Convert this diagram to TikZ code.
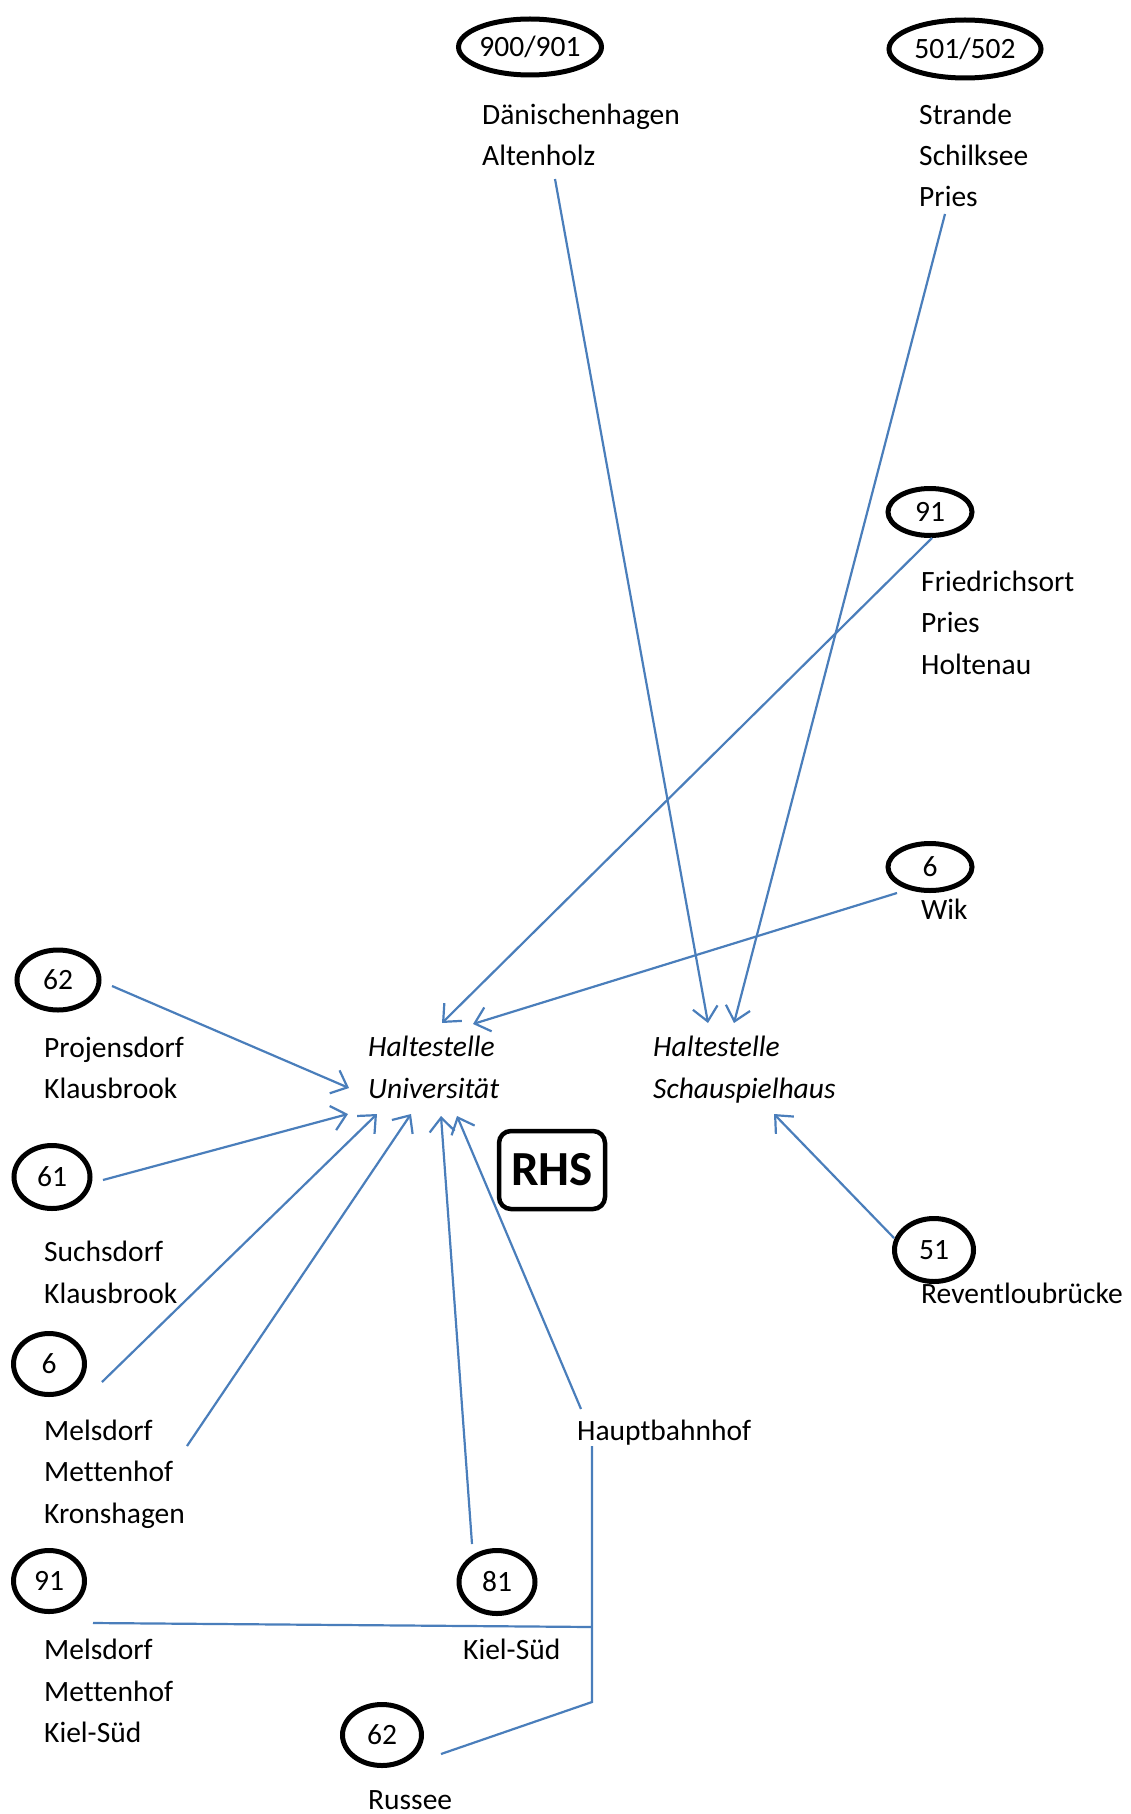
\documentclass[tikz,border=0pt]{standalone}
\usepackage{fontspec}
\setmainfont[Ligatures=NoCommon]{Carlito}
\usetikzlibrary{shapes.geometric,arrows.meta}
\definecolor{lineblue}{RGB}{74,126,187}
\begin{document}
\begin{tikzpicture}[x=1pt,y=-1pt,
  font=\fontsize{29.5}{41.5}\selectfont,
  route/.style={ellipse, draw, line width=5pt, inner sep=0pt},
  lbl/.style={anchor=base west, inner sep=0pt},
  stop/.style={anchor=base west, inner sep=0pt, font=\fontsize{29.5}{41.5}\selectfont\itshape},
  conn/.style={draw=lineblue, line width=2.2pt},
  arr/.style={conn, -{Straight Barb[length=14pt,width=25pt]}}
]
\useasboundingbox (0,0) rectangle (1131,1814);

% route ellipses
\node[route, minimum width=120pt, minimum height=56pt] (r900) at (530,47) {900/901};
\node[route, minimum width=152pt, minimum height=58pt] (r501) at (965,49) {501/502};
\node[route, minimum width=84pt, minimum height=47pt] (r91a) at (930,512) {91};
\node[route, minimum width=84pt, minimum height=47pt] (r6a) at (930,867) {6\hspace{6pt}};
\node[route, minimum width=82pt, minimum height=60pt] (r62a) at (58,980) {62};
\node[route, minimum width=76pt, minimum height=63pt] (r61) at (52,1177) {61};
\node[route, minimum width=71pt, minimum height=61pt] (r6b) at (49,1364) {6};
\node[route, minimum width=71pt, minimum height=61pt] (r91b) at (49,1581) {91};
\node[route, minimum width=76pt, minimum height=63pt] (r81) at (497,1582) {81};
\node[route, minimum width=79pt, minimum height=61pt] (r62b) at (382,1735) {62};
\node[route, minimum width=79pt, minimum height=63pt] (r51) at (934,1250) {51};

% place labels
\node[lbl] (t1a) at (482,125) {Dänischenhagen};
\node[lbl] (t1b) at (482,166) {Altenholz};
\node[lbl] (t2a) at (919,125) {Strande};
\node[lbl] (t2b) at (919,166) {Schilksee};
\node[lbl] (t2c) at (919,207) {Pries};
\node[lbl] (t3a) at (921,591) {Friedrichsort};
\node[lbl] (t3b) at (921,632) {Pries};
\node[lbl] (t3c) at (921,674) {Holtenau};
\node[lbl] (t4a) at (921,919) {Wik};
\node[lbl] (t5a) at (44,1057) {Projensdorf};
\node[lbl] (t5b) at (44,1098) {Klausbrook};
\node[lbl] (t6a) at (44,1261) {Suchsdorf};
\node[lbl] (t6b) at (44,1303) {Klausbrook};
\node[lbl] (t7a) at (44,1440) {Melsdorf};
\node[lbl] (t7b) at (44,1481) {Mettenhof};
\node[lbl] (t7c) at (44,1523) {Kronshagen};
\node[lbl] (t8a) at (44,1659) {Melsdorf};
\node[lbl] (t8b) at (44,1701) {Mettenhof};
\node[lbl] (t8c) at (44,1742) {Kiel-Süd};
\node[lbl] (t9a) at (463,1659) {Kiel-Süd};
\node[lbl] (t10a) at (368,1809) {Russee};
\node[lbl] (t11a) at (921,1303) {Reventloubrücke};
\node[lbl] (hbf) at (577,1440) {Hauptbahnhof};

% stops
\node[stop] (uniA) at (368,1056) {Haltestelle};
\node[stop] (uniB) at (368,1098) {Universität};
\node[stop] (schA) at (653,1056) {Haltestelle};
\node[stop] (schB) at (653,1098) {Schauspielhaus};

% RHS box
\node[draw, line width=4.5pt, rounded corners=12pt, minimum width=106pt, minimum height=78pt,
      inner sep=0pt, font=\fontsize{49}{55}\selectfont\bfseries] (rhs) at (552,1170) {RHS};

% connector end points
\coordinate (a0) at (555,179);  \coordinate (a1) at (708,1023);
\coordinate (b0) at (945,214);  \coordinate (b1) at (734,1023);
\coordinate (c0) at (932,538);  \coordinate (c1) at (442,1023);
\coordinate (d0) at (897,893);  \coordinate (d1) at (473,1024);
\coordinate (e0) at (112,986);  \coordinate (e1) at (349,1088);
\coordinate (f0) at (103,1180); \coordinate (f1) at (348,1114);
\coordinate (g0) at (102,1382); \coordinate (g1) at (377,1114);
\coordinate (h0) at (187,1446); \coordinate (h1) at (411,1114);
\coordinate (i0) at (472,1544); \coordinate (i1) at (441,1116);
\coordinate (j0) at (581,1409); \coordinate (j1) at (457,1116);
\coordinate (k0) at (894,1238); \coordinate (k1) at (774,1114);
\coordinate (hbfdown) at (592,1446);
\coordinate (junc) at (592,1627);
\coordinate (corner) at (592,1702);
\coordinate (m0) at (93,1623);
\coordinate (n0) at (441,1754);

% arrows
\draw[arr] (a0) -- (a1);
\draw[arr] (b0) -- (b1);
\draw[arr] (c0) -- (c1);
\draw[arr] (d0) -- (d1);
\draw[arr] (e0) -- (e1);
\draw[arr] (f0) -- (f1);
\draw[arr] (g0) -- (g1);
\draw[arr] (h0) -- (h1);
\draw[arr] (i0) -- (i1);
\draw[arr] (j0) -- (j1);
\draw[arr] (k0) -- (k1);

% feeder lines
\draw[conn] (hbfdown) -- (corner) -- (n0);
\draw[conn] (m0) -- (junc);
\end{tikzpicture}
\end{document}
